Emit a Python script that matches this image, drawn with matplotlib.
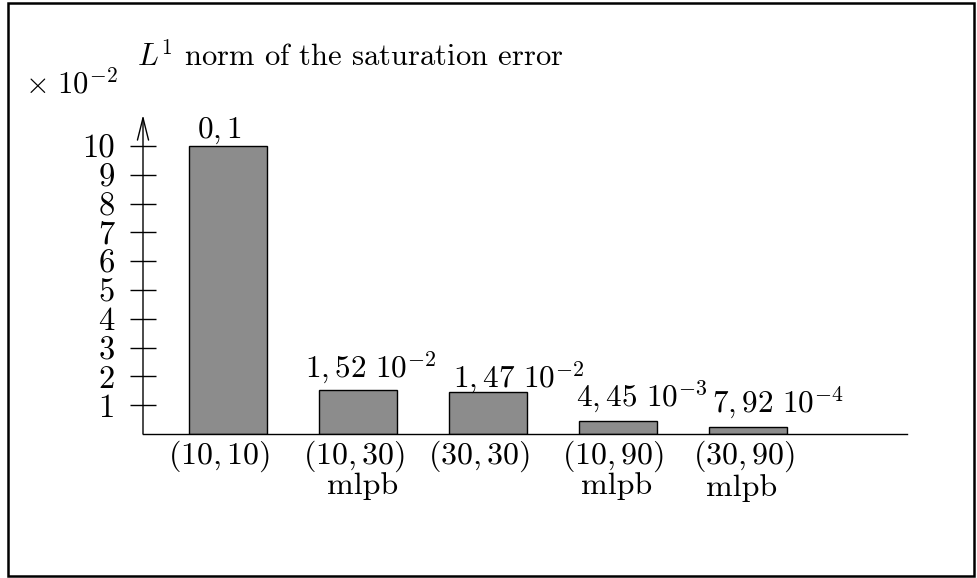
import numpy as np
import matplotlib
matplotlib.use("Agg")
import matplotlib.pyplot as plt
from matplotlib.patches import Rectangle

plt.rcParams["font.family"] = "cmr10"
plt.rcParams["mathtext.fontset"] = "cm"
plt.rcParams["axes.unicode_minus"] = False

# data (bar heights in units of 1e-2, as drawn)
configs = [r"$(10,10)$", r"$(10,30)$", r"$(30,30)$", r"$(10,90)$", r"$(30,90)$"]
methods = ["", "mlpb", "", "mlpb", "mlpb"]
heights = [10.0, 1.52, 1.47, 0.445, 0.25]
value_labels = [r"$0,1$", r"$1,52\ 10^{-2}$", r"$1,47\ 10^{-2}$",
                r"$4,45\ 10^{-3}$", r"$7,92\ 10^{-4}$"]
yticks = list(range(1, 11))

# label placement, in pixels
label_dx = [-9.5, 12.5, 30, 23.5, 29.5]
label_dy = [8, 13, 4, 15, 14]
cfg_dx = [-9.5, -4.5, -9, -5.5, -4.5]
cfg_dy = [-4, -4, -4, -4, -5]
meth_dx = [0, 4.5, 0, -1.5, -6.5]
meth_dy = [0, -60, 0, -60, -62]

fig = plt.figure(figsize=(9.77, 5.78), dpi=100)
W, H = 977, 578
x0, x1 = 143, 907
y0, ytop = 434, 115
ax = fig.add_axes([x0 / W, (H - y0) / H, (x1 - x0) / W, (y0 - ytop) / H])

xpos = np.arange(len(heights))
ax.bar(xpos, heights, width=0.6, color="#8c8c8c", edgecolor="black", linewidth=1.0)

unit = 130.0
ax.set_xlim((x0 - 228.5) / unit, (x1 - 228.5) / unit)
ax.set_ylim(0, (y0 - ytop) / 28.8)

for s in ["top", "right", "left"]:
    ax.spines[s].set_visible(False)
ax.spines["bottom"].set_linewidth(1.0)

# y axis drawn as an arrow
ax.annotate("", xy=(0, 1), xytext=(0, 0), xycoords="axes fraction",
            arrowprops=dict(arrowstyle="->,head_length=0.8,head_width=0.2",
                            lw=1.0, color="black", shrinkA=0, shrinkB=0,
                            mutation_scale=20))

ax.set_yticks(yticks)
ax.set_yticklabels([str(t) for t in yticks], fontsize=23.5)
ax.tick_params(axis="y", direction="inout", length=19, width=1.0, pad=11)
ax.set_xticks([])

for x, h, lab, dx, dy in zip(xpos, heights, value_labels, label_dx, label_dy):
    ax.annotate(lab, xy=(x, h), xytext=(dx, dy), textcoords="offset pixels",
                ha="center", va="baseline", fontsize=22.5, annotation_clip=False)

for x, cfg, dx, dy in zip(xpos, configs, cfg_dx, cfg_dy):
    ax.annotate(cfg, xy=(x, 0), xytext=(dx, dy), textcoords="offset pixels",
                ha="center", va="top", fontsize=23, annotation_clip=False)

for x, m, dx, dy in zip(xpos, methods, meth_dx, meth_dy):
    if m:
        ax.annotate(m, xy=(x, 0), xytext=(dx, dy), textcoords="offset pixels",
                    ha="center", va="baseline", fontsize=23, annotation_clip=False)

fig.text(137 / W, 1 - 66 / H, r"$L^1$ norm of the saturation error",
         fontsize=22, ha="left", va="baseline")
fig.text(25 / W, 1 - 93 / H, r"$\times\ 10^{-2}$",
         fontsize=22, ha="left", va="baseline")

# frame round the whole picture
fig.patches.append(Rectangle((8 / W, 2 / H), 966 / W, 573 / H,
                             transform=fig.transFigure, fill=False,
                             edgecolor="black", linewidth=1.8))

fig.savefig("out.png", dpi=100)
